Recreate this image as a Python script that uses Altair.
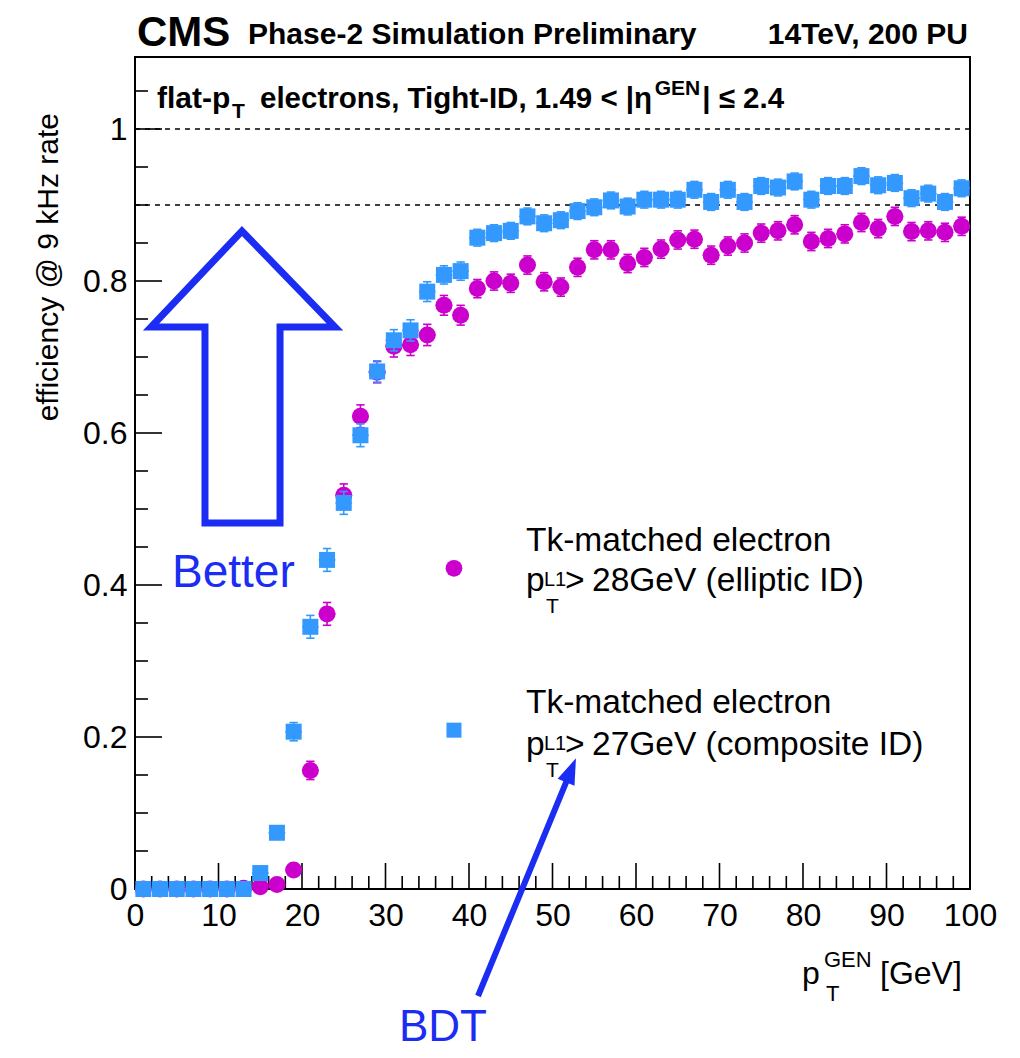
import altair as alt
import pandas as pd

# ---------------- data ----------------
pt_gen = [1, 3, 5, 7, 9, 11, 13, 15, 17, 19, 21, 23, 25, 27, 29, 31, 33, 35, 37, 39,
          41, 43, 45, 47, 49, 51, 53, 55, 57, 59, 61, 63, 65, 67, 69, 71, 73, 75, 77, 79,
          81, 83, 85, 87, 89, 91, 93, 95, 97, 99]

eff_elliptic = [0.0, 0.0, 0.0, 0.0, 0.0, 0.0, 0.001, 0.003, 0.006, 0.025,
                0.156, 0.362, 0.518, 0.622, 0.680, 0.714, 0.716, 0.729, 0.768, 0.755,
                0.790, 0.800, 0.797, 0.821, 0.799, 0.792, 0.818, 0.841, 0.841, 0.823,
                0.831, 0.842, 0.854, 0.855, 0.834, 0.846, 0.850, 0.863, 0.866, 0.874,
                0.852, 0.856, 0.862, 0.877, 0.869, 0.885, 0.865, 0.866, 0.864, 0.872]
err_elliptic = [0.002, 0.002, 0.002, 0.002, 0.002, 0.002, 0.002, 0.003, 0.005, 0.008,
                0.012, 0.015, 0.015, 0.015, 0.014, 0.014, 0.014, 0.014, 0.013, 0.013,
                0.012, 0.012, 0.012, 0.012, 0.012, 0.012, 0.012, 0.012, 0.012, 0.012,
                0.012, 0.012, 0.012, 0.012, 0.012, 0.012, 0.012, 0.012, 0.012, 0.012,
                0.012, 0.012, 0.012, 0.012, 0.012, 0.012, 0.012, 0.012, 0.012, 0.012]

eff_composite = [0.0, 0.0, 0.0, 0.0, 0.0, 0.0, 0.0, 0.021, 0.074, 0.207,
                 0.345, 0.433, 0.508, 0.597, 0.681, 0.722, 0.735, 0.786, 0.808, 0.813,
                 0.857, 0.863, 0.866, 0.885, 0.876, 0.880, 0.892, 0.897, 0.906, 0.898,
                 0.907, 0.907, 0.907, 0.920, 0.904, 0.920, 0.904, 0.925, 0.923, 0.931,
                 0.907, 0.925, 0.925, 0.938, 0.926, 0.929, 0.909, 0.915, 0.904, 0.922]
err_composite = [0.002, 0.002, 0.002, 0.002, 0.002, 0.002, 0.002, 0.004, 0.007, 0.012,
                 0.015, 0.015, 0.015, 0.015, 0.014, 0.014, 0.014, 0.013, 0.012, 0.012,
                 0.011, 0.011, 0.011, 0.011, 0.011, 0.011, 0.011, 0.011, 0.011, 0.011,
                 0.011, 0.011, 0.011, 0.011, 0.011, 0.011, 0.011, 0.011, 0.011, 0.011,
                 0.011, 0.011, 0.011, 0.011, 0.011, 0.011, 0.011, 0.011, 0.011, 0.011]

x_tick_labels = [0, 10, 20, 30, 40, 50, 60, 70, 80, 90, 100]
y_tick_labels = [0, 0.2, 0.4, 0.6, 0.8, 1.0]
x_minor = [2, 4, 6, 8, 12, 14, 16, 18, 22, 24, 26, 28, 32, 34, 36, 38, 42, 44, 46, 48,
           52, 54, 56, 58, 62, 64, 66, 68, 72, 74, 76, 78, 82, 84, 86, 88, 92, 94, 96, 98]
y_minor = [0.05, 0.1, 0.15, 0.25, 0.3, 0.35, 0.45, 0.5, 0.55, 0.65, 0.7, 0.75,
           0.85, 0.9, 0.95, 1.05]
ref_lines = [1.0, 0.9]

# hollow "Better" arrow outline vertices (data units)
better_x = [12.87, 17.37, 17.37, 23.95, 12.81, 1.92, 8.38, 8.38, 12.87]
better_y = [0.4816, 0.4816, 0.7395, 0.7395, 0.8658, 0.7395, 0.7395, 0.4816, 0.4816]
# "BDT" arrow: tail, end of shaft, tip (data units)
bdt_x = [41.08, 52.18]
bdt_y = [-0.1408, 0.155]
bdt_tip = (52.81, 0.172)
legend_pos = {"elliptic": (38.2, 0.422), "composite": (38.2, 0.209)}

# ---------------- style ----------------
FONT = "Liberation Sans"
MAG = "#cc00cc"
AZ = "#3399ff"
BLUE = "#1b2cf3"
W, H = 835, 832
YMAX = 832 / 760

xs = alt.Scale(domain=[0, 100], nice=False, zero=False)
ys = alt.Scale(domain=[0, YMAX], nice=False, zero=False)
xaxis = alt.Axis(values=x_tick_labels, format="d", labelFont=FONT, labelFontSize=32,
                 labelColor="black", labelPadding=11, ticks=False, tickSize=0,
                 domain=False, grid=False, title=None, labelOverlap=False, labelFlush=False)
yaxis = alt.Axis(values=y_tick_labels, format="~g", labelFont=FONT, labelFontSize=32,
                 labelColor="black", labelPadding=8, ticks=False, tickSize=0,
                 domain=False, grid=False, title=None, labelOverlap=False, labelFlush=False)


def X(f):
    return alt.X(f"{f}:Q", scale=xs, axis=xaxis)


def Y(f):
    return alt.Y(f"{f}:Q", scale=ys, axis=yaxis)


df = pd.DataFrame({"pt": pt_gen, "e": eff_elliptic, "ee": err_elliptic,
                   "c": eff_composite, "ce": err_composite})
df["e_lo"] = df["e"] - df["ee"]
df["e_hi"] = df["e"] + df["ee"]
df["c_lo"] = df["c"] - df["ce"]
df["c_hi"] = df["c"] + df["ce"]
df["xl"] = df["pt"] - 1
df["xr"] = df["pt"] + 1
df["cl"] = df["pt"] - 0.5
df["cr"] = df["pt"] + 0.5

layers = []

# ticks (inside the frame, ROOT style)
layers.append(alt.Chart(pd.DataFrame({"v": y_tick_labels})).mark_rule(color="black", strokeWidth=1.6)
              .encode(y=Y("v"), x=alt.value(0), x2=alt.value(27)))
layers.append(alt.Chart(pd.DataFrame({"v": y_minor})).mark_rule(color="black", strokeWidth=1.6)
              .encode(y=Y("v"), x=alt.value(0), x2=alt.value(13)))
layers.append(alt.Chart(pd.DataFrame({"v": x_tick_labels})).mark_rule(color="black", strokeWidth=1.6)
              .encode(x=X("v"), y=alt.value(H), y2=alt.value(H - 26)))
layers.append(alt.Chart(pd.DataFrame({"v": x_minor})).mark_rule(color="black", strokeWidth=1.6)
              .encode(x=X("v"), y=alt.value(H), y2=alt.value(H - 13)))

# dashed reference lines
layers.append(alt.Chart(pd.DataFrame({"v": ref_lines})).mark_rule(color="black", strokeWidth=1.5,
                                                                   strokeDash=[5, 5])
              .encode(y=Y("v")))

# hollow "Better" arrow
layers.append(alt.Chart(pd.DataFrame({"ax": better_x, "ay": better_y, "i": list(range(len(better_x)))}))
              .mark_line(color=BLUE, strokeWidth=7, strokeJoin="miter", strokeMiterLimit=10)
              .encode(x=X("ax"), y=Y("ay"), order="i:Q"))

# BDT arrow
layers.append(alt.Chart(pd.DataFrame({"bx": bdt_x, "by": bdt_y, "i": [0, 1]}))
              .mark_line(color=BLUE, strokeWidth=6)
              .encode(x=X("bx"), y=Y("by"), order="i:Q"))
layers.append(alt.Chart(pd.DataFrame({"bx": [bdt_tip[0]], "by": [bdt_tip[1]]}))
              .mark_point(shape="M0,0L-0.42,1.2L0.42,1.2Z", filled=True, size=1880, color=BLUE,
                          opacity=1, angle=22.4, strokeWidth=0)
              .encode(x=X("bx"), y=Y("by")))


def series(col, color, shape, size):
    out = []
    out.append(alt.Chart(df).mark_rule(color=color, strokeWidth=1.6)
               .encode(x=X("pt"), y=Y(f"{col}_lo"), y2=alt.Y2(f"{col}_hi:Q")))
    out.append(alt.Chart(df).mark_rule(color=color, strokeWidth=1.6)
               .encode(x=X("cl"), x2=alt.X2("cr:Q"), y=Y(f"{col}_lo")))
    out.append(alt.Chart(df).mark_rule(color=color, strokeWidth=1.6)
               .encode(x=X("cl"), x2=alt.X2("cr:Q"), y=Y(f"{col}_hi")))
    out.append(alt.Chart(df).mark_rule(color=color, strokeWidth=1.6)
               .encode(x=X("xl"), x2=alt.X2("xr:Q"), y=Y(col)))
    out.append(alt.Chart(df).mark_point(shape=shape, filled=True, size=size, color=color, opacity=1)
               .encode(x=X("pt"), y=Y(col)))
    return out


layers += series("e", MAG, "circle", 289)
layers += series("c", AZ, "square", 256)

# legend markers
for key, color, shape, size in [("elliptic", MAG, "circle", 280), ("composite", AZ, "square", 225)]:
    lx, ly = legend_pos[key]
    layers.append(alt.Chart(pd.DataFrame({"lx": [lx], "ly": [ly]}))
                  .mark_point(shape=shape, filled=True, size=size, color=color, opacity=1)
                  .encode(x=X("lx"), y=Y("ly")))


def text(s, x, y, size, weight="normal", align="left", baseline="alphabetic", color="black", angle=0):
    return (alt.Chart(pd.DataFrame({"t": [s]}))
            .mark_text(font=FONT, fontSize=size, fontWeight=weight, align=align,
                       baseline=baseline, color=color, angle=angle)
            .encode(text="t:N", x=alt.value(x), y=alt.value(y)))


# header (plot coords = page - (135, 57))
layers.append(text("CMS", 2, -11, 42, "bold"))
layers.append(text("Phase-2 Simulation Preliminary", 113, -13, 30, "bold"))
layers.append(text("14TeV, 200 PU", 833, -13, 30, "bold", align="right"))

# inner label with sub/superscripts (bold Arial-metric widths)
BW = {" ": .278, ",": .278, "-": .333, ".": .278, "<": .584, "|": .280, "1": .556, "2": .556,
      "4": .556, "9": .556, "D": .722, "E": .667, "G": .778, "I": .278, "N": .722, "T": .611,
      "a": .556, "c": .556, "e": .556, "f": .333, "g": .611, "h": .611, "i": .278, "l": .278,
      "n": .611, "o": .611, "p": .611, "r": .389, "s": .556, "t": .333, "η": .611, "≤": .549}


def bw(s, size):
    return sum(BW.get(ch, .556) for ch in s) * size


base = 51
layers.append(text("flat-p", 22, base, 30, "bold"))
layers.append(text("T", 97, base + 10, 21, "bold"))
s_main = "electrons, Tight-ID, 1.49 < |η"
x_main = 125
layers.append(text(s_main, x_main, base, 29.5, "bold"))
x_gen = x_main + bw(s_main, 29.5) + 2
layers.append(text("GEN", x_gen, base - 13, 21, "bold"))
layers.append(text("| ≤ 2.4", x_gen + bw("GEN", 21) + 2, base, 29.5, "bold"))

# legend texts
LF = 33.5
for base1, base2, label in [(494, 534, "28GeV (elliptic ID)"), (656, 698, "27GeV (composite ID)")]:
    layers.append(text("Tk-matched electron", 391, base1, LF))
    layers.append(text("p", 391, base2, LF))
    layers.append(text("L1", 409, base2 - 5, 20))
    layers.append(text("T", 411, base2 + 22, 21))
    layers.append(text(">", 430, base2, LF))
    layers.append(text(label, 457, base2, LF))

# axis titles
layers.append(text("efficiency @ 9 kHz rate", -77, 56, 30, align="right", angle=270))
layers.append(text("p", 667, 927, 32))
layers.append(text("GEN", 689, 910, 22))
layers.append(text("T", 691, 944, 22))
layers.append(text("[GeV]", 745, 927, 32))

# annotations
layers.append(text("Better", 37, 530, 46, color=BLUE))
layers.append(text("BDT", 264, 984, 44, color=BLUE))

chart = (alt.layer(*layers)
         .properties(width=W, height=H, background="white",
                     autosize=alt.AutoSizeParams(type="none"),
                     padding={"left": 127, "top": 49, "right": 42, "bottom": 161})
         .configure_view(stroke="black", strokeWidth=2))

chart.save("out.html", embed_options={"renderer": "svg", "actions": False})
